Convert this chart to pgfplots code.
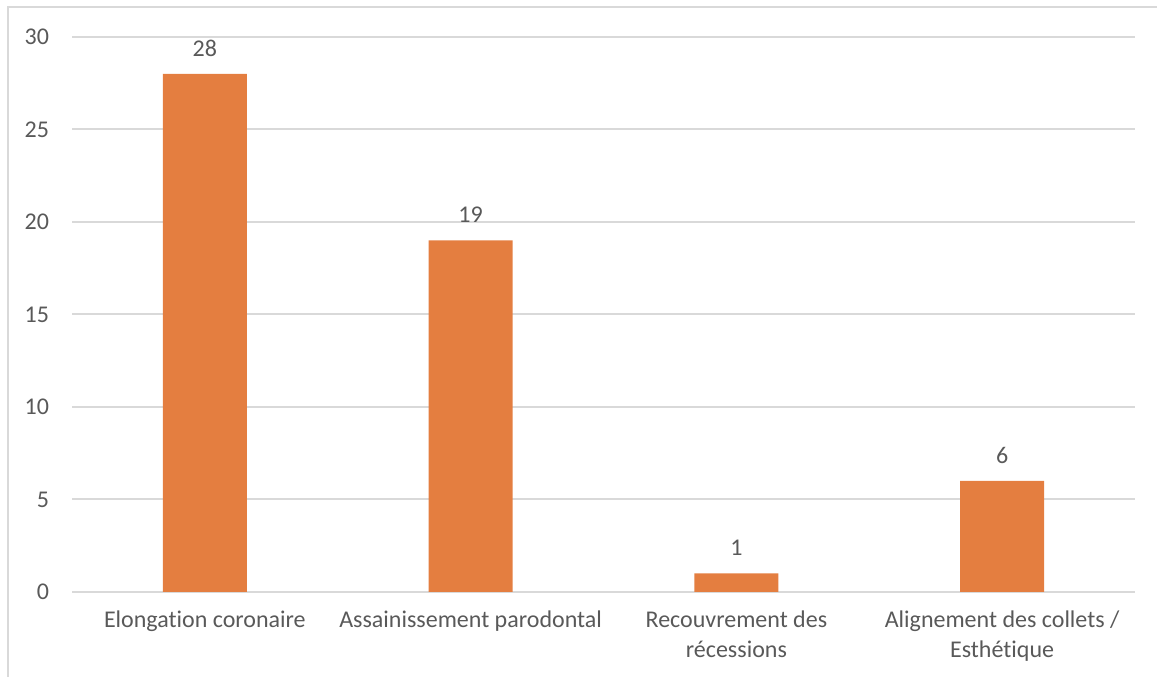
\documentclass[border=0pt]{standalone}
\usepackage{pgfplots}
\pgfplotsset{compat=1.18}
\usepackage{fontspec}
\setmainfont{Carlito}[Ligatures=NoCommon]
\definecolor{barorange}{RGB}{228,126,64}
\definecolor{txtgray}{RGB}{89,89,89}
\definecolor{gridgray}{RGB}{217,217,217}
\begin{document}
\begin{tikzpicture}
\useasboundingbox (0,0) rectangle (867.75pt,507.75pt);
\draw[gridgray, line width=1.5pt] (6pt,0) -- (6pt,502.5pt) -- (867.75pt,502.5pt);
\begin{axis}[
  at={(54pt,63.75pt)}, anchor=south west,
  scale only axis, width=797.25pt, height=416.25pt,
  xmin=-0.5, xmax=3.5, ymin=0, ymax=30,
  axis line style={draw=none},
  ytick={0,5,...,30},
  ymajorgrids, grid style={gridgray, line width=1.5pt},
  xtick={0,1,2,3},
  xticklabels={Elongation coronaire, Assainissement parodontal, {Recouvrement des\\récessions}, {Alignement des collets /\\Esthétique}},
  major tick length=0pt,
  tick label style={font=\fontsize{18}{22.5}\selectfont, text=txtgray},
  xticklabel style={align=center, anchor=north, inner sep=0pt, yshift=-14pt},
  yticklabel style={anchor=east, inner sep=0pt, xshift=-17pt},
  /pgf/number format/assume math mode=true,
  ybar, bar width=63pt,
  nodes near coords,
  nodes near coords style={font=\fontsize{18}{22.5}\selectfont, text=txtgray, anchor=south, inner sep=0pt, yshift=13pt},
  clip=false,
]
\addplot[fill=barorange, draw=none] coordinates {(0,28) (1,19) (2,1) (3,6)};
\end{axis}
\end{tikzpicture}
\end{document}
